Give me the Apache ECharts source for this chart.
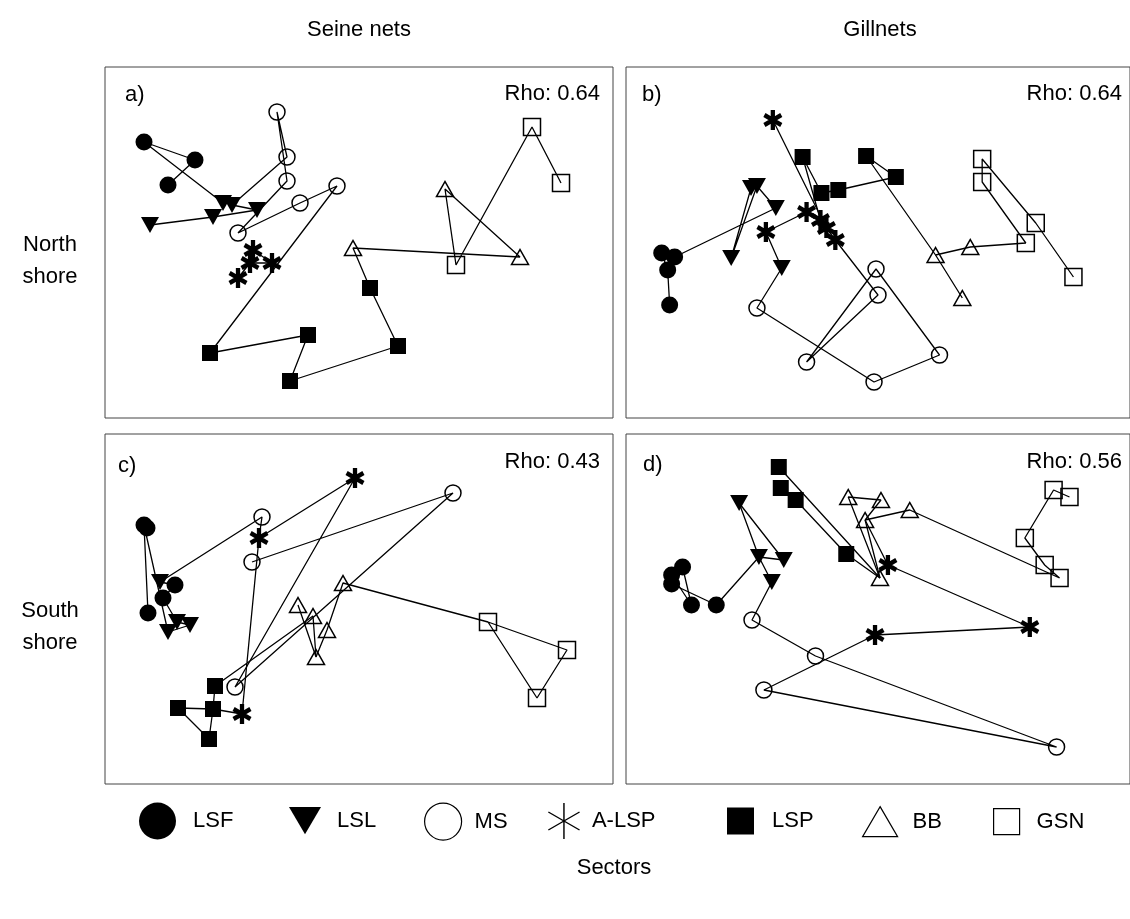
<!DOCTYPE html>
<html>
<head>
<meta charset="utf-8">
<script src="https://cdn.jsdelivr.net/npm/echarts@6/dist/echarts.min.js"></script>
<style>
  html, body { margin: 0; padding: 0; background: #fff; }
  #chart { width: 1130px; height: 919px; }
</style>
</head>
<body>
<div id="chart"></div>
<script>
// ---- labels ----
const sectors = ['LSF', 'LSL', 'MS', 'A-LSP', 'LSP', 'BB', 'GSN'];
const gears = ['Seine nets', 'Gillnets'];
const shores = ['North\nshore', 'South\nshore'];
const panelTags = ['a)', 'b)', 'c)', 'd)'];
const rhoValues = [0.64, 0.64, 0.43, 0.56];
const sectorAxisTitle = 'Sectors';

// one-letter keys used in the trajectory lists below
const sectorCode = { F: 'LSF', L: 'LSL', M: 'MS', A: 'A-LSP', P: 'LSP', B: 'BB', G: 'GSN' };

// ---- MDS coordinates (ordination units), one list per sector ----
// a) seine nets, north shore
const seineNorth = {
  'LSF':   [[3.9, 27.6], [9.0, 25.8], [6.3, 23.3]],
  'LSL':   [[4.5, 19.3], [10.8, 20.1], [15.2, 20.8], [12.7, 21.3], [11.8, 21.5]],
  'MS':    [[17.2, 30.6], [18.2, 26.1], [18.2, 23.7], [19.5, 21.5], [23.2, 23.2], [13.3, 18.5]],
  'A-LSP': [[14.8, 16.8], [14.5, 15.5], [16.7, 15.5], [13.3, 14.0]],
  'LSP':   [[10.5, 6.5], [20.3, 8.3], [18.5, 3.7], [29.3, 7.2], [26.5, 13.0]],
  'BB':    [[24.8, 17.0], [34.0, 22.9], [41.5, 16.1]],
  'GSN':   [[35.1, 15.3], [42.7, 29.1], [45.6, 23.5]]
};
const seineNorthLinks = [
  ['F2', 'F1', 'F0', 'L4'],
  ['L0', 'L1', 'L2', 'L3', 'M1', 'M0', 'M2', 'M5', 'M3', 'M4', 'P0', 'P1', 'P2', 'P3', 'P4', 'B0', 'B2', 'B1', 'G0', 'G1', 'G2'],
  ['A0', 'A2', 'A1', 'A3']
];

// b) gillnets, north shore
const gillNorth = {
  'LSF':   [[3.6, 16.5], [4.9, 16.1], [4.2, 14.8], [4.4, 11.3]],
  'LSL':   [[12.6, 23.0], [13.2, 23.2], [15.1, 21.0], [10.6, 16.0], [15.7, 15.0]],
  'MS':    [[13.2, 11.0], [18.2, 5.6], [25.0, 3.6], [31.6, 6.3], [25.2, 14.9], [25.4, 12.3]],
  'A-LSP': [[14.8, 29.8], [18.2, 20.6], [14.1, 18.6], [19.6, 19.8], [20.2, 19.0], [21.1, 17.8]],
  'LSP':   [[17.8, 26.1], [19.7, 22.5], [21.4, 22.8], [24.2, 26.2], [27.2, 24.1]],
  'BB':    [[31.2, 16.3], [34.7, 17.1], [33.9, 12.0]],
  'GSN':   [[35.9, 25.9], [35.9, 23.6], [41.3, 19.5], [40.3, 17.5], [45.1, 14.1]]
};
const gillNorthLinks = [
  ['F3', 'F2', 'F0', 'F1', 'L2', 'L1', 'L3', 'L0'],
  ['A0', 'A4', 'A5', 'M5', 'M1', 'M4', 'M3', 'M2', 'M0', 'L4', 'A2', 'A1', 'A3'],
  ['A3', 'P0', 'P1', 'P2', 'P4', 'P3', 'B0', 'B2'],
  ['B0', 'B1', 'G3', 'G1', 'G0', 'G2', 'G4']
];

// c) seine nets, south shore
const seineSouth = {
  'LSF':   [[3.9, 25.9], [4.2, 25.6], [4.3, 17.1], [5.8, 18.6], [7.0, 19.9]],
  'LSL':   [[5.5, 20.2], [6.3, 15.2], [7.2, 16.2], [8.5, 15.9]],
  'MS':    [[15.7, 26.7], [14.7, 22.2], [13.0, 9.7], [34.8, 29.1]],
  'A-LSP': [[25.0, 30.6], [15.4, 24.6], [13.7, 7.0]],
  'LSP':   [[11.0, 9.8], [7.3, 7.6], [10.8, 7.5], [10.4, 4.5]],
  'BB':    [[19.3, 17.9], [20.8, 16.8], [21.1, 12.7], [22.2, 15.4], [23.8, 20.1]],
  'GSN':   [[38.3, 16.2], [46.2, 13.4], [43.2, 8.6]]
};
const seineSouthLinks = [
  ['F2', 'F0', 'L1', 'L3', 'L2', 'F3', 'F4'],
  ['F4', 'L0', 'M0', 'A1', 'A0', 'M2', 'M3', 'M1'],
  ['A1', 'A2', 'P2', 'P1', 'P3', 'P2', 'P0', 'B1', 'B2', 'B0'],
  ['B2', 'B3', 'B4', 'G0', 'G2', 'G1', 'G0']
];

// d) gillnets, south shore
const gillSouth = {
  'LSF':   [[4.6, 20.9], [5.7, 21.7], [6.6, 17.9], [9.1, 17.9], [4.6, 20.0]],
  'LSL':   [[11.4, 28.1], [13.4, 22.7], [15.9, 22.4], [14.7, 20.2]],
  'MS':    [[12.7, 16.4], [19.1, 12.8], [13.9, 9.4], [43.4, 3.7]],
  'A-LSP': [[25.1, 14.9], [40.7, 15.7], [26.4, 21.9]],
  'LSP':   [[15.4, 31.7], [15.6, 29.6], [17.1, 28.4], [22.2, 23.0]],
  'BB':    [[22.4, 28.7], [24.1, 26.4], [25.7, 28.4], [28.6, 27.4], [25.6, 20.6]],
  'GSN':   [[43.1, 29.4], [44.7, 28.7], [40.2, 24.6], [42.2, 21.9], [43.7, 20.6]]
};
const gillSouthLinks = [
  ['F0', 'F2', 'F1'],
  ['F4', 'F3', 'L1', 'L0', 'L2', 'L1', 'L3', 'M0', 'M1', 'M3', 'M2', 'A0', 'A1', 'A2', 'B1'],
  ['P1', 'P2', 'P3', 'B4', 'B0', 'B2', 'B1', 'B3', 'G4', 'G3', 'G2', 'G0', 'G1'],
  ['P0', 'B4', 'B1']
];

const panelData = [seineNorth, gillNorth, seineSouth, gillSouth];
const panelLinks = [seineNorthLinks, gillNorthLinks, seineSouthLinks, gillSouthLinks];

// ---- layout & styling ----
const FONT = '"Liberation Sans", Arial, sans-serif';
const panelBoxes = [
  { left: 105, top: 67, width: 508, height: 351, yMax: 35.1, tag: [125, 95], rho: [600, 94] },
  { left: 626, top: 67, width: 508, height: 351, yMax: 35.1, tag: [642, 95], rho: [1122, 94] },
  { left: 105, top: 434, width: 508, height: 350, yMax: 35.0, tag: [118, 466], rho: [600, 462] },
  { left: 626, top: 434, width: 508, height: 350, yMax: 35.0, tag: [643, 465], rho: [1122, 462] }
];
const X_MAX = 50.8;

// bold six-armed asterisk used on the plots, and a thin one for the key
const boldStar = 'path://M-2.2,-10L2.2,-10L2.2,10L-2.2,10Z M7.56,-6.9L9.76,-3.09L-7.56,6.9L-9.76,3.09Z M-9.76,-3.09L-7.56,-6.9L9.76,3.09L7.56,6.9Z';
const thinStar = 'path://M-0.8,-20L0.8,-20L0.8,20L-0.8,20Z M16.92,-10.69L17.72,-9.31L-16.92,10.69L-17.72,9.31Z M-17.72,-9.31L-16.92,-10.69L17.72,9.31L16.92,10.69Z';
const downTri = 'path://M0,0L20,0L10,17Z';

const OPEN = { color: 'rgba(0,0,0,0)', borderColor: '#000', borderWidth: 1.5, opacity: 1 };
const FILLED = { color: '#000', borderWidth: 0, opacity: 1 };
const sectorStyle = {
  'LSF':   { symbol: 'circle', size: 17, item: FILLED },
  'LSL':   { symbol: downTri, size: [18, 16], item: FILLED },
  'MS':    { symbol: 'circle', size: 16, item: OPEN },
  'A-LSP': { symbol: boldStar, size: [19, 20], item: FILLED },
  'LSP':   { symbol: 'rect', size: 16, item: FILLED },
  'BB':    { symbol: 'triangle', size: [17, 15], item: OPEN },
  'GSN':   { symbol: 'rect', size: 17, item: OPEN }
};

// key entries: icon box position/size and gap before the text
const keyLayout = {
  'LSF':   { left: 139, w: 37, h: 37, gap: 12 },
  'LSL':   { left: 289, w: 32, h: 28, gap: 11 },
  'MS':    { left: 424, w: 37, h: 37, gap: 8 },
  'A-LSP': { left: 548, w: 32, h: 36, gap: 7, icon: thinStar },
  'LSP':   { left: 727, w: 27, h: 27, gap: 13 },
  'BB':    { left: 862, w: 35, h: 30, gap: 10 },
  'GSN':   { left: 993, w: 26, h: 26, gap: 12 }
};
const KEY_MID_Y = 821;

const grids = [], xAxes = [], yAxes = [], series = [], graphics = [];

panelBoxes.forEach((box, i) => {
  grids.push({
    left: box.left, top: box.top, width: box.width, height: box.height,
    show: true, borderColor: '#444', borderWidth: 1, backgroundColor: 'transparent'
  });
  xAxes.push({ gridIndex: i, type: 'value', min: 0, max: X_MAX, show: false });
  yAxes.push({ gridIndex: i, type: 'value', min: 0, max: box.yMax, show: false });

  const pts = panelData[i];
  // trajectories joining consecutive samples
  panelLinks[i].forEach(path => {
    series.push({
      type: 'line', xAxisIndex: i, yAxisIndex: i, silent: true, z: 2,
      symbol: 'none', animation: false,
      lineStyle: { color: '#000', width: 1.3, opacity: 1 },
      data: path.map(ref => pts[sectorCode[ref[0]]][Number(ref.slice(1))])
    });
  });
  // sector samples
  sectors.forEach(name => {
    const st = sectorStyle[name];
    series.push({
      name: name, type: 'scatter', xAxisIndex: i, yAxisIndex: i, z: 3,
      symbol: st.symbol, symbolSize: st.size, itemStyle: st.item,
      emphasis: { disabled: true }, animation: false,
      data: pts[name]
    });
  });

  graphics.push({
    type: 'text', x: box.tag[0], y: box.tag[1],
    style: { text: panelTags[i], font: '22px ' + FONT, fill: '#000', align: 'left', verticalAlign: 'middle' }
  });
  graphics.push({
    type: 'text', x: box.rho[0], y: box.rho[1],
    style: { text: 'Rho: ' + rhoValues[i].toFixed(2), font: '22px ' + FONT, fill: '#000', align: 'right', verticalAlign: 'middle' }
  });
});

// column headings and row headings
gears.forEach((g, c) => {
  const box = panelBoxes[c];
  graphics.push({
    type: 'text', x: box.left + box.width / 2, y: 30,
    style: { text: g, font: '22px ' + FONT, fill: '#000', align: 'center', verticalAlign: 'middle' }
  });
});
shores.forEach((s, r) => {
  const box = panelBoxes[r * 2];
  graphics.push({
    type: 'text', x: 50, y: box.top + box.height / 2 + 18,
    style: { text: s, font: '22px ' + FONT, fill: '#000', align: 'center', verticalAlign: 'middle', lineHeight: 32 }
  });
});
graphics.push({
  type: 'text', x: 614, y: 868,
  style: { text: sectorAxisTitle, font: '22px ' + FONT, fill: '#000', align: 'center', verticalAlign: 'middle' }
});

// key: one legend per sector so each sits at its own spot
const legends = sectors.map(name => {
  const k = keyLayout[name];
  const entry = { name: name };
  if (k.icon) entry.icon = k.icon;
  const open = sectorStyle[name].item === OPEN;
  return {
    data: [entry], left: k.left, top: KEY_MID_Y - k.h / 2, padding: 0,
    itemWidth: k.w, itemHeight: k.h, selectedMode: false,
    itemStyle: open
      ? { color: 'rgba(0,0,0,0)', borderColor: '#000', borderWidth: 1.2, opacity: 1 }
      : { color: '#000', borderWidth: 0, opacity: 1 },
    textStyle: { fontSize: 22, fontFamily: FONT, color: '#000', padding: [0, 0, 0, k.gap] }
  };
});

const chart = echarts.init(document.getElementById('chart'), null, { renderer: 'canvas' });
chart.setOption({
  backgroundColor: '#fff',
  animation: false,
  grid: grids,
  xAxis: xAxes,
  yAxis: yAxes,
  legend: legends,
  graphic: graphics,
  series: series
});
</script>
</body>
</html>
